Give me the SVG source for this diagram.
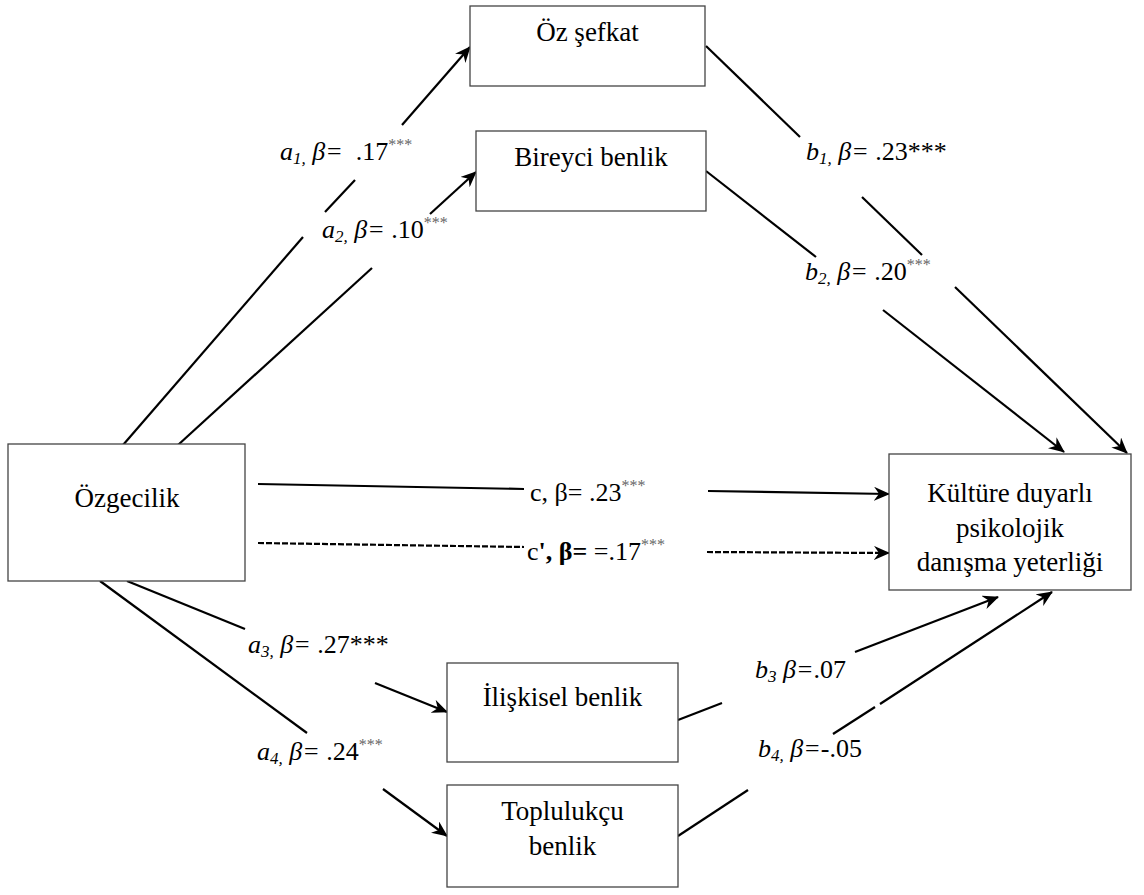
<svg xmlns="http://www.w3.org/2000/svg" width="1144" height="895" viewBox="0 0 1144 895">
<style>
.box{fill:#fff;stroke:#444;stroke-width:1.3}
.t{font-size:27px;fill:#000;text-anchor:middle}
.lab{font-size:26px;fill:#000}
.i{font-style:italic}
.sub{font-size:17px;font-style:italic}
.sup{font-size:16px;fill:#666}
.ln{stroke:#000;stroke-width:2.2;fill:none}
.ar{marker-end:url(#arr)}
.dash{stroke-dasharray:6 2}
</style>
<defs>
<marker id="arr" viewBox="0 0 16 14" refX="15" refY="7" markerWidth="16" markerHeight="14" markerUnits="userSpaceOnUse" orient="auto">
<path d="M0,0 L16,7 L0,14 L5,7 z" fill="#000"/>
</marker>
</defs>
<rect width="1144" height="895" fill="#fff"/>
<g id="connectors">
<line class="ln" x1="123" y1="445" x2="303" y2="237"/>
<line class="ln" x1="325" y1="212" x2="355" y2="180"/>
<line class="ln ar" x1="402" y1="125" x2="470" y2="47"/>
<line class="ln" x1="178" y1="445" x2="372" y2="268"/>
<line class="ln ar" x1="430" y1="214" x2="476" y2="172"/>
<line class="ln" x1="706" y1="46" x2="800" y2="137"/>
<line class="ln" x1="862" y1="197" x2="922" y2="255"/>
<line class="ln ar" x1="955" y1="287" x2="1127" y2="453"/>
<line class="ln" x1="706" y1="171" x2="816" y2="257"/>
<line class="ln ar" x1="883" y1="310" x2="1064" y2="452"/>
<line class="ln" x1="258" y1="484" x2="524" y2="489"/>
<line class="ln ar" x1="708" y1="491" x2="889" y2="494"/>
<line class="ln dash" x1="258" y1="543" x2="524" y2="547"/>
<line class="ln dash ar" x1="707" y1="552" x2="889" y2="553"/>
<line class="ln" x1="127" y1="581" x2="245" y2="629"/>
<line class="ln ar" x1="375" y1="683" x2="447" y2="712"/>
<line class="ln" x1="100" y1="581" x2="307" y2="733"/>
<line class="ln ar" x1="383" y1="789" x2="447" y2="836"/>
<line class="ln" x1="678" y1="720" x2="722" y2="703"/>
<line class="ln ar" x1="855" y1="652" x2="998" y2="597"/>
<line class="ln" x1="678" y1="836" x2="748" y2="790"/>
<line class="ln" x1="833" y1="734" x2="875" y2="707"/>
<line class="ln ar" x1="880" y1="704" x2="1052" y2="592"/>
</g>
<g id="labels" font-family="Liberation Serif">
<text class="lab" x="280" y="160" xml:space="preserve"><tspan class="i">a</tspan><tspan class="sub" dy="4">1,</tspan><tspan class="i" dy="-4"> β=</tspan><tspan>  .17</tspan><tspan class="sup" dy="-10">***</tspan></text>
<text class="lab" x="322" y="238" xml:space="preserve"><tspan class="i">a</tspan><tspan class="sub" dy="4">2,</tspan><tspan class="i" dy="-4"> β=</tspan><tspan> .10</tspan><tspan class="sup" dy="-10">***</tspan></text>
<text class="lab" x="806" y="160" xml:space="preserve"><tspan class="i">b</tspan><tspan class="sub" dy="4">1,</tspan><tspan class="i" dy="-4"> β=</tspan><tspan> .23***</tspan></text>
<text class="lab" x="805" y="280" xml:space="preserve"><tspan class="i">b</tspan><tspan class="sub" dy="4">2,</tspan><tspan class="i" dy="-4"> β=</tspan><tspan> .20</tspan><tspan class="sup" dy="-10">***</tspan></text>
<text class="lab" x="530" y="501" xml:space="preserve">c, β= .23<tspan class="sup" dy="-10">***</tspan></text>
<text class="lab" x="527" y="560" xml:space="preserve">c<tspan font-weight="bold">', β=</tspan> =.17<tspan class="sup" dy="-10">***</tspan></text>
<text class="lab" x="248" y="653" xml:space="preserve"><tspan class="i">a</tspan><tspan class="sub" dy="4">3,</tspan><tspan class="i" dy="-4"> β=</tspan><tspan> .27***</tspan></text>
<text class="lab" x="257" y="760" xml:space="preserve"><tspan class="i">a</tspan><tspan class="sub" dy="4">4,</tspan><tspan class="i" dy="-4"> β=</tspan><tspan> .24</tspan><tspan class="sup" dy="-10">***</tspan></text>
<text class="lab" x="755" y="678" xml:space="preserve"><tspan class="i">b</tspan><tspan class="sub" dy="4">3</tspan><tspan class="i" dy="-4"> β=</tspan><tspan>.07</tspan></text>
<text class="lab" x="758" y="757" xml:space="preserve"><tspan class="i">b</tspan><tspan class="sub" dy="4">4,</tspan><tspan class="i" dy="-4"> β=</tspan><tspan>-.05</tspan></text>
</g>
<g font-family="Liberation Serif">
<g id="oz-sefkat"><rect class="box" x="470" y="6" width="235" height="80"/><text class="t" x="587.5" y="41">Öz şefkat</text></g>
<g id="bireyci-benlik"><rect class="box" x="476" y="131" width="230" height="80"/><text class="t" x="591" y="166">Bireyci benlik</text></g>
<g id="ozgecilik"><rect class="box" x="8" y="444" width="237" height="137"/><text class="t" x="127" y="507">Özgecilik</text></g>
<g id="kulture"><rect class="box" x="889" y="454" width="242" height="136"/><text class="t" x="1010" y="502">Kültüre duyarlı</text><text class="t" x="1010" y="537">psikolojik</text><text class="t" x="1010" y="571">danışma yeterliği</text></g>
<g id="iliskisel-benlik"><rect class="box" x="447" y="663" width="231" height="99"/><text class="t" x="562.5" y="706">İlişkisel benlik</text></g>
<g id="toplulukcu-benlik"><rect class="box" x="447" y="785" width="231" height="102"/><text class="t" x="562.5" y="820">Toplulukçu</text><text class="t" x="562.5" y="855">benlik</text></g>
</g>
</svg>
